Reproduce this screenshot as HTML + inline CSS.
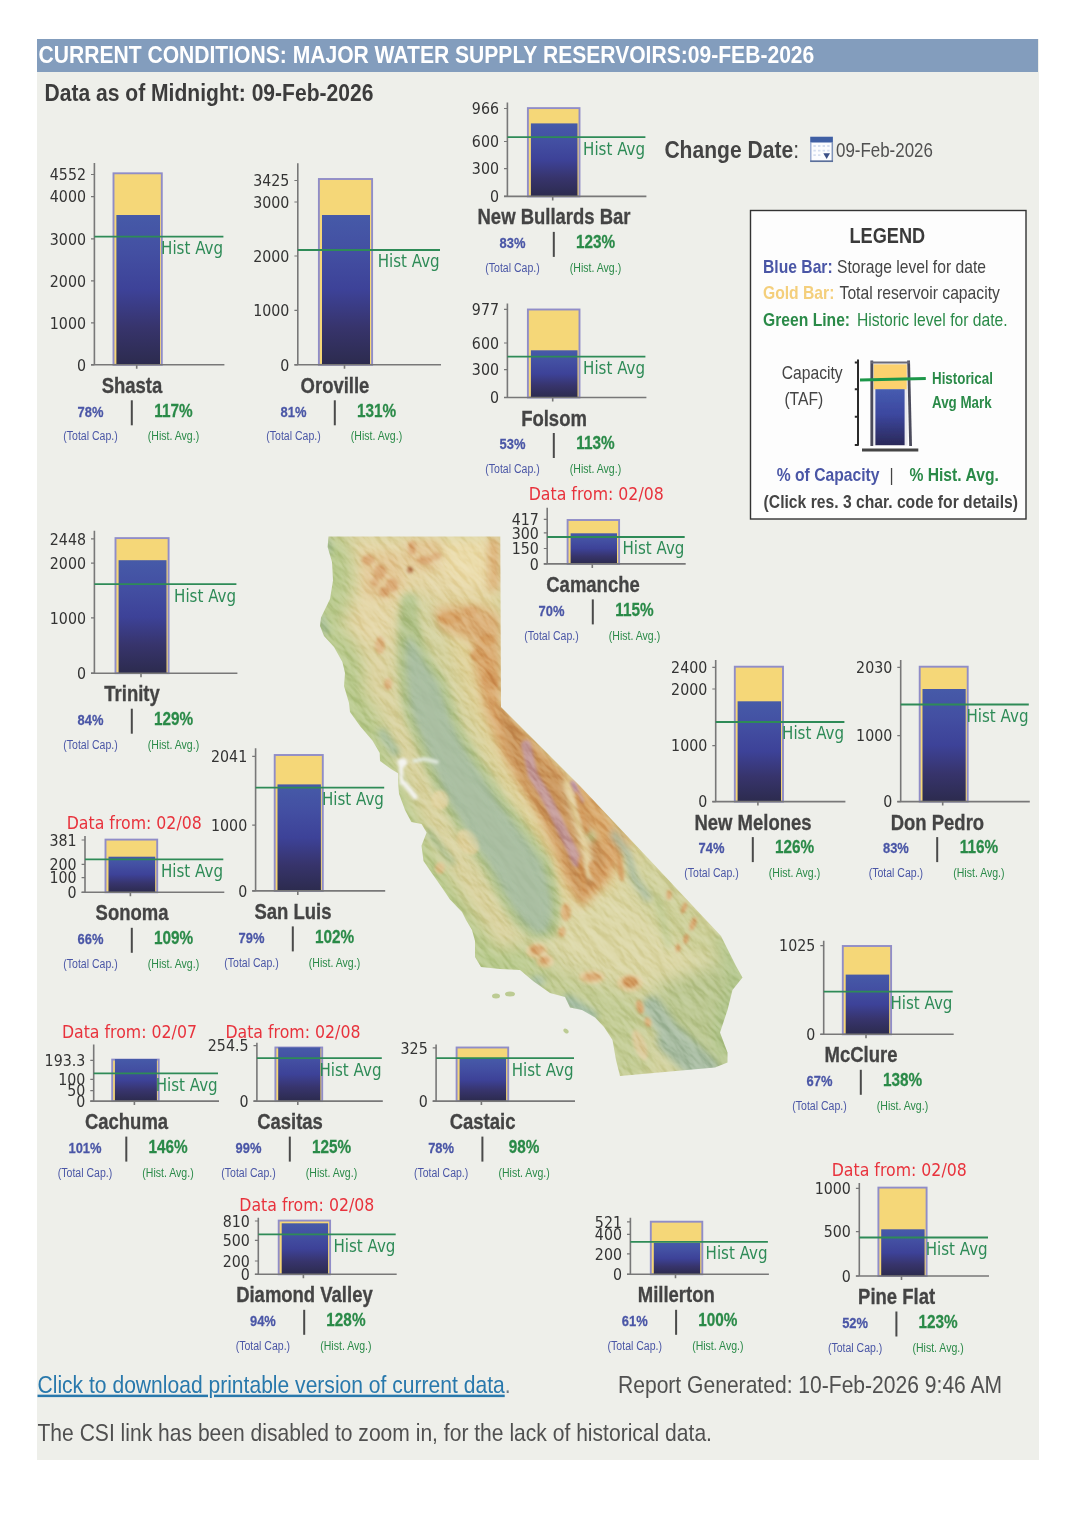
<!DOCTYPE html>
<html lang="en">
<head>
<meta charset="utf-8">
<title>Current Conditions: Major Water Supply Reservoirs</title>
<style>
html,body{margin:0;padding:0;background:#fff}
body{width:1080px;height:1527px;position:relative;overflow:hidden;font-family:"Liberation Sans",sans-serif}
#panel{position:absolute;left:37px;top:39px;width:1002px;height:1421px;background:#eeefea}
#hdr{position:absolute;left:37px;top:39px;width:1001px;height:32.5px;background:#839dbd}
svg{position:absolute;left:0;top:0;filter:blur(0.7px)}
text{font-family:"Liberation Sans",sans-serif;fill:#444}
.gold{fill:#f5d778;stroke:#908dc8;stroke-width:1.9}
.blue{fill:url(#bg)}
.axis{fill:none;stroke:#787878;stroke-width:1.6}
.tkm{fill:none;stroke:#777;stroke-width:1.2}
.hist{fill:none;stroke:#2e8b57;stroke-width:1.8}
.tk{font-family:"DejaVu Sans",sans-serif;font-size:15.9px;fill:#333;text-anchor:end}
.ha{font-family:"DejaVu Sans",sans-serif;font-size:17.3px;fill:#2e8b57;text-anchor:end}
.nm{font-weight:bold;font-size:21.2px;text-anchor:middle;fill:#444;stroke:#444;stroke-width:.3px}
.p1{font-weight:bold;font-size:15.1px;text-anchor:middle;fill:#4a56a6;stroke:#4a56a6;stroke-width:.25px}
.p2{font-weight:bold;font-size:17.9px;text-anchor:middle;fill:#2a8a48;stroke:#2a8a48;stroke-width:.25px}
.s1{font-size:12.3px;text-anchor:middle;fill:#4a56a6}
.s2{font-size:12.3px;text-anchor:middle;fill:#2a8a48}
.vb{fill:#4a4a4a}
.df{font-family:"DejaVu Sans",sans-serif;font-size:18.4px;fill:#e8323c}
</style>
</head>
<body>
<div id="panel"></div>
<div id="hdr"></div>
<svg width="1080" height="1527" viewBox="0 0 1080 1527">
<defs>
<linearGradient id="bg" x1="0" y1="0" x2="0" y2="1">
<stop offset="0" stop-color="#465aa8"/><stop offset="0.25" stop-color="#434fa2"/><stop offset="0.5" stop-color="#3d4298"/><stop offset="0.75" stop-color="#37346c"/><stop offset="1" stop-color="#2c2b4e"/>
</linearGradient>
<filter id="soft" x="-5%" y="-5%" width="110%" height="110%"><feGaussianBlur stdDeviation="0.45"/></filter>
<linearGradient id="lg" x1="0" y1="0" x2="0" y2="1"><stop offset="0" stop-color="#465cb0"/><stop offset="0.45" stop-color="#3c479f"/><stop offset="1" stop-color="#2a2858"/></linearGradient>
</defs>
<text transform="translate(38.5 63) scale(0.879 1)" style="font-weight:bold;font-size:24px;fill:#fff">CURRENT CONDITIONS: MAJOR WATER SUPPLY RESERVOIRS:09-FEB-2026</text>
<text transform="translate(44.5 100.5) scale(0.857 1)" style="font-weight:bold;font-size:24.6px;fill:#3c3c3c">Data as of Midnight: 09-Feb-2026</text>
<clipPath id="cac"><path d="M328.5 536.5L327.6 547L332 562L333 580.5L330 599L321 617.6L320 626L324 636L334 647L342.4 662L345 673L344 686L349 703L350 712L360.4 726.5L372.6 740.7L379.7 753L380 761L391 769L398 773.3L398 781.5L399 793.7L405 810L411.3 822L421.5 824L426.6 832.4L421.5 845.7L423.5 861L431.7 873L441.9 887.4L450 899.6L462 912L466 920L472 930L475 941L475 957L481 967L500 969L520 970L534 981.7L550 993L565 997L570 1007.5L582 1010L595 1017.5L604 1027L612.5 1040L616 1060L620 1076L715 1067.5L727.5 1062.5L727.5 1052.5L720 1032.5L727.5 1010L732.5 990L742.5 977.5L736 966L728 950L721 936L650 860.3L580 786L501 707L500.3 536.5Z"/></clipPath>
<filter id="b8" x="-30%" y="-30%" width="160%" height="160%"><feGaussianBlur stdDeviation="8"/></filter>
<filter id="b5" x="-30%" y="-30%" width="160%" height="160%"><feGaussianBlur stdDeviation="5"/></filter>
<filter id="b3" x="-30%" y="-30%" width="160%" height="160%"><feGaussianBlur stdDeviation="3"/></filter>
<filter id="b15" x="-30%" y="-30%" width="160%" height="160%"><feGaussianBlur stdDeviation="1.5"/></filter>
<filter id="relief" x="0" y="0" width="100%" height="100%" color-interpolation-filters="sRGB">
<feTurbulence type="fractalNoise" baseFrequency="0.035 0.1" numOctaves="4" seed="7" result="n"/>
<feDiffuseLighting in="n" surfaceScale="3.4" diffuseConstant="1" lighting-color="#ffffff"><feDistantLight azimuth="250" elevation="30"/></feDiffuseLighting>
</filter>
<g id="camap" clip-path="url(#cac)">
<rect x="310" y="530" width="440" height="555" fill="#d3d29f"/>
<g filter="url(#b8)">
<path d="M345 536L500 536L500 706L470 660L445 610L415 590L400 610L395 660L392 700L370 700L350 660L340 620Z" fill="#e4d6a6"/>
<path d="M440 536L490 536L490 585L465 590L440 570Z" fill="#ebdcab"/>
<path d="M328.5 536.5L327.6 547L332 562L333 580.5L330 599L321 617.6L320 626L324 636L334 647L342.4 662L345 673L344 686L349 703L350 712L360.4 726.5L372.6 740.7L379.7 753L380 761L391 769L398 773.3L398 781.5L399 793.7L405 810L411.3 822L421.5 824L426.6 832.4L421.5 845.7L423.5 861L431.7 873L441.9 887.4L450 899.6L462 912L466 920L472 930L475 941L475 957L481 967L500 969L520 970L534 981.7L550 993L565 997L570 1007.5L582 1010L595 1017.5L604 1027L612.5 1040L616 1060L620 1076" fill="none" stroke="#b9ca8e" stroke-width="42" stroke-linejoin="round"/>
<path d="M372 640L392 640L398 700L420 770L450 830L490 890L520 940L500 950L465 900L435 850L412 800L390 745L375 700Z" fill="#dcd3a0"/>
<path d="M440 600L500 600L500 706L640 850L610 900L575 925L560 905L550 870L530 830L505 790L485 750L465 700L450 650Z" fill="#e0d29a"/>
<path d="M555 915L600 890L650 885L705 925L705 975L650 985L595 970L555 950Z" fill="#dcd7a6"/>
<path d="M655 985L742 955L745 1080L690 1080L655 1025Z" fill="#bcc892"/>
<path d="M515 965L600 985L640 1000L650 1080L610 1080L590 1020L540 990Z" fill="#c4cd96"/>
<path d="M640 870L720 935L700 960L660 930L640 900Z" fill="#cdd09a"/>
<path d="M721 936L742 977L728 1010L722 1032L727 1060" stroke="#aec58a" stroke-width="16" fill="none"/>
</g>
<g filter="url(#b5)">
<path d="M468 612L500 622L501 707L630 842L607 882L582 907L566 882L554 850L538 815L518 782L500 748L486 712L476 670Z" fill="#d9a569"/>
<path d="M434 608L477 605L499 615L499 660L470 640L440 628Z" fill="#dcb078"/>
<path d="M362 553L399 553L405 585L390 600L365 595Z" fill="#e3c794"/>
<path d="M406 540L440 540L440 566L420 572L406 565Z" fill="#e3c794"/>
<path d="M494 538L494 590" stroke="#dba86c" stroke-width="9" fill="none"/>
</g>
<g filter="url(#b3)">
<path d="M498 706L525 736L555 770L590 810L612 838L597 880L580 897L565 862L547 822L526 786L507 752Z" fill="#cb965c"/>
<path d="M408 600L405 620L404 645L404 666L406 684L408 703L413 721L421.5 741L430 762L438 781L448 802L460 822L473 843L487 863L498 884L509 904L520 920L533 932L548 932L553 920L554 904L550 884L543.7 863L530 843L515 822L500 802L486.7 781L474 762L462 741L452.6 721L447 703L440 684L428.5 666L417.5 645L412 620L411 600Z" fill="#b3c48b" stroke="#b3c48b" stroke-width="13" stroke-linejoin="round"/>
<path d="M408 636L407.5 645L407.5 666L409.5 684L411.5 703L416.5 721L425.0 741L433.5 762L441.5 781L451.5 802L463.5 822L476.5 843L490.5 863L501.5 884L512.5 904L523.5 920L536.5 932L544.5 932L549.5 920L550.5 904L546.5 884L540.2 863L526.5 843L511.5 822L496.5 802L483.2 781L470.5 762L458.5 741L449.1 721L443.5 703L436.5 684L425.0 666L414.0 645Z" fill="#aabfa2"/>
<path d="M382 733L395 752" stroke="#a9c09f" stroke-width="9" fill="none" stroke-linecap="round"/>
<path d="M428 832L452 862" stroke="#aec49a" stroke-width="6" fill="none" stroke-linecap="round"/>
<path d="M322 618L326 632" stroke="#a9c09f" stroke-width="6" fill="none" stroke-linecap="round"/>
<path d="M328 540L329 552" stroke="#a9c09f" stroke-width="5" fill="none" stroke-linecap="round"/>
<path d="M567 782L576 815L586 850L590 875" stroke="#e8daa8" stroke-width="8" fill="none" stroke-linecap="round"/>
<path d="M613 833L628 854L634 878L648 898" stroke="#a4b9a0" stroke-width="6.5" fill="none" stroke-linecap="round" stroke-linejoin="round"/>
<ellipse cx="592" cy="836" rx="4" ry="6" fill="#bccb92"/>
<path d="M658 900L669 946" stroke="#c0cc94" stroke-width="6" fill="none" stroke-linecap="round"/>
<path d="M652 1006L664 1024L680 1046L705 1072" stroke="#a9bda3" stroke-width="20" fill="none" stroke-linecap="round"/><path d="M672 1040L704 1070" stroke="#a9bda3" stroke-width="30" fill="none" stroke-linecap="round"/>
<path d="M568 1000L592 1016" stroke="#a5bda6" stroke-width="11" fill="none" stroke-linecap="round"/>
<ellipse cx="537" cy="981" rx="8" ry="5" fill="#a8bfa4"/>
<path d="M572 775L600 805L612 830L606 860L596 838L584 808Z" fill="#d9a86a"/>
</g>
<g filter="url(#b15)">
<path d="M526 745L533 775L545 795L555 815L563 832L571 848L577 862" stroke="#c29bac" stroke-width="10" opacity="0.75" fill="none" stroke-linecap="round" stroke-linejoin="round"/>
<path d="M573 783L581 801" stroke="#c29bac" stroke-width="5" fill="none" stroke-linecap="round"/>
<ellipse cx="410" cy="570" rx="3" ry="3" fill="#b87a50"/>
<ellipse cx="368" cy="560" rx="6" ry="5" fill="#d9a872"/>
<ellipse cx="380" cy="572" rx="6" ry="7" fill="#d9a872"/>
<ellipse cx="392" cy="585" rx="6" ry="7" fill="#d9a872"/>
<ellipse cx="384" cy="592" rx="5" ry="5" fill="#d9a872"/>
<ellipse cx="375" cy="582" rx="4" ry="5" fill="#dcb07c"/>
<ellipse cx="412" cy="548" rx="4" ry="7" fill="#d9a872"/>
<ellipse cx="425" cy="560" rx="8" ry="4" fill="#d9a872"/>
<ellipse cx="436" cy="556" rx="5" ry="4" fill="#dcb07c"/>
<ellipse cx="380" cy="645" rx="5" ry="9" fill="#ddb682"/>
<ellipse cx="388" cy="684" rx="4" ry="6" fill="#ddb682"/>
<ellipse cx="450" cy="618" rx="12" ry="6" fill="#d6a062"/>
<ellipse cx="470" cy="612" rx="8" ry="5" fill="#d9a86e"/>
<ellipse cx="487" cy="640" rx="8" ry="6" fill="#d6a062"/>
<ellipse cx="478" cy="655" rx="7" ry="6" fill="#d6a062"/>
<ellipse cx="490" cy="680" rx="8" ry="10" fill="#d39a5c"/>
<ellipse cx="537" cy="951" rx="11" ry="8" fill="#e0cc9a"/>
<ellipse cx="545" cy="961" rx="9" ry="7" fill="#e0cc9a"/>
<ellipse cx="592" cy="977" rx="13" ry="7" fill="#e0cc9a"/>
<ellipse cx="630" cy="983" rx="13" ry="9" fill="#e0cc9a"/>
<ellipse cx="537" cy="950" rx="7" ry="5" fill="#d9a870"/>
<ellipse cx="545" cy="960" rx="5" ry="4" fill="#d9a870"/>
<ellipse cx="592" cy="977" rx="9" ry="4" fill="#d9a870"/>
<ellipse cx="630" cy="982" rx="8" ry="6" fill="#d39c60"/>
<ellipse cx="640" cy="1007" rx="3.5" ry="7" fill="#d6a268" transform="rotate(-15 640 1007)"/>
<ellipse cx="648" cy="1022" rx="3" ry="5" fill="#dcb07a" transform="rotate(-20 648 1022)"/>
<ellipse cx="566" cy="912" rx="5" ry="9" fill="#dcb27a"/>
<ellipse cx="562" cy="932" rx="3.5" ry="5" fill="#dcb27a"/>
<ellipse cx="582" cy="812" rx="3" ry="22" fill="#d09758" transform="rotate(-15 582 812)"/>
<ellipse cx="596" cy="872" rx="6" ry="12" fill="#d39c5e" transform="rotate(-25 596 872)"/>
<ellipse cx="620" cy="868" rx="3" ry="14" fill="#d39c5e" transform="rotate(-10 620 868)"/>
<ellipse cx="582" cy="876" rx="3" ry="20" fill="#d09758" transform="rotate(-8 582 876)"/>
<ellipse cx="669" cy="895" rx="2.5" ry="5" fill="#d8a870"/>
<ellipse cx="684" cy="908" rx="2.5" ry="6" fill="#d8a870" transform="rotate(20 684 908)"/>
<ellipse cx="693" cy="924" rx="3" ry="7" fill="#d8a870" transform="rotate(20 693 924)"/>
<ellipse cx="686" cy="939" rx="2.5" ry="5" fill="#d8a870" transform="rotate(10 686 939)"/>
<ellipse cx="678" cy="948" rx="2.5" ry="4" fill="#d8a870"/>
<ellipse cx="640" cy="1045" rx="6" ry="16" fill="#dccb9b" transform="rotate(-20 640 1045)"/>
<ellipse cx="440" cy="868" rx="5" ry="6" fill="#dcc28e"/>
<ellipse cx="440" cy="800" rx="9" ry="10" fill="#e0d3a0"/>
<ellipse cx="468" cy="842" rx="10" ry="14" fill="#e0d3a0" transform="rotate(-35 468 842)"/>
</g>
<rect x="180" y="455" width="700" height="700" transform="rotate(50 530 805)" filter="url(#relief)" style="mix-blend-mode:soft-light" opacity="0.36"/>
<path d="M408 636L407.5 645L407.5 666L409.5 684L411.5 703L416.5 721L425.0 741L433.5 762L441.5 781L451.5 802L463.5 822L476.5 843L490.5 863L501.5 884L512.5 904L523.5 920L536.5 932L544.5 932L549.5 920L550.5 904L546.5 884L540.2 863L526.5 843L511.5 822L496.5 802L483.2 781L470.5 762L458.5 741L449.1 721L443.5 703L436.5 684L425.0 666L414.0 645Z" fill="#aabfa2" filter="url(#b5)" opacity="0.8"/>
<g filter="url(#b15)"><ellipse cx="402.5" cy="762.5" rx="5" ry="4.5" fill="#f3f3f0"/><path d="M401 766L401.5 783" stroke="#f3f3f0" stroke-width="4" fill="none" stroke-linecap="round"/><path d="M404 783L410 790L415 797" stroke="#f3f3f0" stroke-width="5" fill="none" stroke-linecap="round"/><path d="M414 761L424 759L437 762" stroke="#e4ebe2" stroke-width="3.5" fill="none" stroke-linecap="round"/></g>
</g>
<g fill="#bccb93"><ellipse cx="496" cy="996" rx="4" ry="2.5"/><ellipse cx="510" cy="994" rx="5" ry="2.5"/><ellipse cx="566" cy="1031" rx="3" ry="2" transform="rotate(35 566 1031)"/></g>
<g class="chart">
<rect class="gold" x="113.5" y="173.3" width="48.3" height="191.5"/>
<rect class="blue" x="116.4" y="215" width="43.6" height="149.8"/>
<path class="axis" d="M94.4 163V364.8M91 364.8H224.4M136.7 364.8v4"/>
<path class="tkm" d="M91 174.5h3.4M91 196.7h3.4M91 238.8h3.4M91 280.8h3.4M91 322.8h3.4M91 364.8h3.4"/>
<text class="tk" transform="translate(86 180.2) scale(0.895 1)">4552</text>
<text class="tk" transform="translate(86 202.4) scale(0.895 1)">4000</text>
<text class="tk" transform="translate(86 244.5) scale(0.895 1)">3000</text>
<text class="tk" transform="translate(86 286.5) scale(0.895 1)">2000</text>
<text class="tk" transform="translate(86 328.5) scale(0.895 1)">1000</text>
<text class="tk" transform="translate(86 370.5) scale(0.895 1)">0</text>
<path class="hist" d="M94.4 236.7H223.4"/>
<text class="ha" transform="translate(223.1 254.1) scale(0.872 1)">Hist Avg</text>
</g>
<text class="nm" transform="translate(132 392.8) scale(0.872 1)">Shasta</text>
<text class="p1" transform="translate(90.5 416.5) scale(0.857 1)">78%</text>
<text class="p2" transform="translate(173.5 416.5) scale(0.857 1)">117%</text>
<rect class="vb" x="130.8" y="400.3" width="2" height="25"/>
<text class="s1" transform="translate(90.5 440.4) scale(0.857 1)">(Total Cap.)</text>
<text class="s2" transform="translate(173.5 440.4) scale(0.857 1)">(Hist. Avg.)</text>
<g class="chart">
<rect class="gold" x="318.9" y="179" width="53.2" height="185.8"/>
<rect class="blue" x="322" y="215" width="48" height="149.8"/>
<path class="axis" d="M297.8 163.2V364.8M294.4 364.8H441M344.5 364.8v4"/>
<path class="tkm" d="M294.4 180.5h3.4M294.4 202h3.4M294.4 256h3.4M294.4 310.4h3.4M294.4 364.8h3.4"/>
<text class="tk" transform="translate(289.4 186.2) scale(0.895 1)">3425</text>
<text class="tk" transform="translate(289.4 207.7) scale(0.895 1)">3000</text>
<text class="tk" transform="translate(289.4 261.7) scale(0.895 1)">2000</text>
<text class="tk" transform="translate(289.4 316.1) scale(0.895 1)">1000</text>
<text class="tk" transform="translate(289.4 370.5) scale(0.895 1)">0</text>
<path class="hist" d="M297.8 250H440"/>
<text class="ha" transform="translate(439.7 267.4) scale(0.872 1)">Hist Avg</text>
</g>
<text class="nm" transform="translate(335 392.8) scale(0.872 1)">Oroville</text>
<text class="p1" transform="translate(293.5 416.5) scale(0.857 1)">81%</text>
<text class="p2" transform="translate(376.5 416.5) scale(0.857 1)">131%</text>
<rect class="vb" x="333.8" y="400.3" width="2" height="25"/>
<text class="s1" transform="translate(293.5 440.4) scale(0.857 1)">(Total Cap.)</text>
<text class="s2" transform="translate(376.5 440.4) scale(0.857 1)">(Hist. Avg.)</text>
<g class="chart">
<rect class="gold" x="527.9" y="108.1" width="51.6" height="88.3"/>
<rect class="blue" x="530.9" y="123.4" width="46.6" height="73"/>
<path class="axis" d="M507.4 102.6V196.4M504 196.4H646.4M552.7 196.4v4"/>
<path class="tkm" d="M504 108.5h3.4M504 141.5h3.4M504 168.7h3.4M504 196.4h3.4"/>
<text class="tk" transform="translate(499 114.2) scale(0.895 1)">966</text>
<text class="tk" transform="translate(499 147.2) scale(0.895 1)">600</text>
<text class="tk" transform="translate(499 174.4) scale(0.895 1)">300</text>
<text class="tk" transform="translate(499 202.1) scale(0.895 1)">0</text>
<path class="hist" d="M507.4 137.2H645.4"/>
<text class="ha" transform="translate(645.1 154.6) scale(0.872 1)">Hist Avg</text>
</g>
<text class="nm" transform="translate(554 224.4) scale(0.872 1)">New Bullards Bar</text>
<text class="p1" transform="translate(512.5 248.1) scale(0.857 1)">83%</text>
<text class="p2" transform="translate(595.5 248.1) scale(0.857 1)">123%</text>
<rect class="vb" x="552.8" y="231.9" width="2" height="25"/>
<text class="s1" transform="translate(512.5 272) scale(0.857 1)">(Total Cap.)</text>
<text class="s2" transform="translate(595.5 272) scale(0.857 1)">(Hist. Avg.)</text>
<g class="chart">
<rect class="gold" x="527.9" y="309.5" width="51.6" height="88"/>
<rect class="blue" x="530.9" y="350.3" width="46.6" height="47.2"/>
<path class="axis" d="M507.4 303.6V397.5M504 397.5H646.4M552.7 397.5v4"/>
<path class="tkm" d="M504 309.4h3.4M504 343h3.4M504 369.7h3.4M504 397.5h3.4"/>
<text class="tk" transform="translate(499 315.1) scale(0.895 1)">977</text>
<text class="tk" transform="translate(499 348.7) scale(0.895 1)">600</text>
<text class="tk" transform="translate(499 375.4) scale(0.895 1)">300</text>
<text class="tk" transform="translate(499 403.2) scale(0.895 1)">0</text>
<path class="hist" d="M507.4 356.7H645.4"/>
<text class="ha" transform="translate(645.1 374.1) scale(0.872 1)">Hist Avg</text>
</g>
<text class="nm" transform="translate(554 425.5) scale(0.872 1)">Folsom</text>
<text class="p1" transform="translate(512.5 449.2) scale(0.857 1)">53%</text>
<text class="p2" transform="translate(595.5 449.2) scale(0.857 1)">113%</text>
<rect class="vb" x="552.8" y="433" width="2" height="25"/>
<text class="s1" transform="translate(512.5 473.1) scale(0.857 1)">(Total Cap.)</text>
<text class="s2" transform="translate(595.5 473.1) scale(0.857 1)">(Hist. Avg.)</text>
<g class="chart">
<rect class="gold" x="567.6" y="520" width="51.5" height="43.9"/>
<rect class="blue" x="570.6" y="533.3" width="46.4" height="30.6"/>
<path class="axis" d="M547.2 507.8V563.9M543.8 563.9H685.7M592.3 563.9v4"/>
<path class="tkm" d="M543.8 519.4h3.4M543.8 532.8h3.4M543.8 548.5h3.4M543.8 563.9h3.4"/>
<text class="tk" transform="translate(538.8 525.1) scale(0.895 1)">417</text>
<text class="tk" transform="translate(538.8 538.5) scale(0.895 1)">300</text>
<text class="tk" transform="translate(538.8 554.2) scale(0.895 1)">150</text>
<text class="tk" transform="translate(538.8 569.6) scale(0.895 1)">0</text>
<path class="hist" d="M547.2 537H684.7"/>
<text class="ha" transform="translate(684.4 554.4) scale(0.872 1)">Hist Avg</text>
</g>
<text class="nm" transform="translate(593 591.9) scale(0.872 1)">Camanche</text>
<text class="p1" transform="translate(551.5 615.6) scale(0.857 1)">70%</text>
<text class="p2" transform="translate(634.5 615.6) scale(0.857 1)">115%</text>
<rect class="vb" x="591.8" y="599.4" width="2" height="25"/>
<text class="s1" transform="translate(551.5 639.5) scale(0.857 1)">(Total Cap.)</text>
<text class="s2" transform="translate(634.5 639.5) scale(0.857 1)">(Hist. Avg.)</text>
<text class="df" transform="translate(528.7 500.4) scale(0.857 1)">Data from: 02/08</text>
<g class="chart">
<rect class="gold" x="115.5" y="538.1" width="53.1" height="135.1"/>
<rect class="blue" x="118.6" y="560.2" width="47.9" height="113"/>
<path class="axis" d="M94.4 530.7V673.2M91 673.2H237.4M141 673.2v4"/>
<path class="tkm" d="M91 538.9h3.4M91 563.2h3.4M91 617.8h3.4M91 673.2h3.4"/>
<text class="tk" transform="translate(86 544.6) scale(0.895 1)">2448</text>
<text class="tk" transform="translate(86 568.9) scale(0.895 1)">2000</text>
<text class="tk" transform="translate(86 623.5) scale(0.895 1)">1000</text>
<text class="tk" transform="translate(86 678.9) scale(0.895 1)">0</text>
<path class="hist" d="M94.4 584.2H236.4"/>
<text class="ha" transform="translate(236.1 601.6) scale(0.872 1)">Hist Avg</text>
</g>
<text class="nm" transform="translate(132 701.2) scale(0.872 1)">Trinity</text>
<text class="p1" transform="translate(90.5 724.9) scale(0.857 1)">84%</text>
<text class="p2" transform="translate(173.5 724.9) scale(0.857 1)">129%</text>
<rect class="vb" x="130.8" y="708.7" width="2" height="25"/>
<text class="s1" transform="translate(90.5 748.8) scale(0.857 1)">(Total Cap.)</text>
<text class="s2" transform="translate(173.5 748.8) scale(0.857 1)">(Hist. Avg.)</text>
<g class="chart">
<rect class="gold" x="105.5" y="839.6" width="51.7" height="52.7"/>
<rect class="blue" x="108.5" y="856.7" width="46.7" height="35.6"/>
<path class="axis" d="M85 836V892.3M81.6 892.3H224.3M130.4 892.3v4"/>
<path class="tkm" d="M81.6 840h3.4M81.6 864.3h3.4M81.6 877.7h3.4M81.6 892.3h3.4"/>
<text class="tk" transform="translate(76.6 845.7) scale(0.895 1)">381</text>
<text class="tk" transform="translate(76.6 870) scale(0.895 1)">200</text>
<text class="tk" transform="translate(76.6 883.4) scale(0.895 1)">100</text>
<text class="tk" transform="translate(76.6 898) scale(0.895 1)">0</text>
<path class="hist" d="M85 859.3H223.3"/>
<text class="ha" transform="translate(223 876.7) scale(0.872 1)">Hist Avg</text>
</g>
<text class="nm" transform="translate(132 920.3) scale(0.872 1)">Sonoma</text>
<text class="p1" transform="translate(90.5 944) scale(0.857 1)">66%</text>
<text class="p2" transform="translate(173.5 944) scale(0.857 1)">109%</text>
<rect class="vb" x="130.8" y="927.8" width="2" height="25"/>
<text class="s1" transform="translate(90.5 967.9) scale(0.857 1)">(Total Cap.)</text>
<text class="s2" transform="translate(173.5 967.9) scale(0.857 1)">(Hist. Avg.)</text>
<text class="df" transform="translate(66.7 829.3) scale(0.857 1)">Data from: 02/08</text>
<g class="chart">
<rect class="gold" x="274.7" y="755" width="48.1" height="135.9"/>
<rect class="blue" x="277.5" y="784.4" width="43.4" height="106.5"/>
<path class="axis" d="M255.6 748.3V890.9M252.2 890.9H385.2M297.8 890.9v4"/>
<path class="tkm" d="M252.2 756.3h3.4M252.2 825.2h3.4M252.2 890.9h3.4"/>
<text class="tk" transform="translate(247.2 762) scale(0.895 1)">2041</text>
<text class="tk" transform="translate(247.2 830.9) scale(0.895 1)">1000</text>
<text class="tk" transform="translate(247.2 896.6) scale(0.895 1)">0</text>
<path class="hist" d="M255.6 787.6H384.2"/>
<text class="ha" transform="translate(383.9 805) scale(0.872 1)">Hist Avg</text>
</g>
<text class="nm" transform="translate(293 918.9) scale(0.872 1)">San Luis</text>
<text class="p1" transform="translate(251.5 942.6) scale(0.857 1)">79%</text>
<text class="p2" transform="translate(334.5 942.6) scale(0.857 1)">102%</text>
<rect class="vb" x="291.8" y="926.4" width="2" height="25"/>
<text class="s1" transform="translate(251.5 966.5) scale(0.857 1)">(Total Cap.)</text>
<text class="s2" transform="translate(334.5 966.5) scale(0.857 1)">(Hist. Avg.)</text>
<g class="chart">
<rect class="gold" x="734.8" y="666.7" width="48.2" height="134.9"/>
<rect class="blue" x="737.6" y="701.3" width="43.4" height="100.3"/>
<path class="axis" d="M715.7 660V801.6M712.3 801.6H845.4M757.9 801.6v4"/>
<path class="tkm" d="M712.3 667.3h3.4M712.3 689h3.4M712.3 745.6h3.4M712.3 801.6h3.4"/>
<text class="tk" transform="translate(707.3 673) scale(0.895 1)">2400</text>
<text class="tk" transform="translate(707.3 694.7) scale(0.895 1)">2000</text>
<text class="tk" transform="translate(707.3 751.3) scale(0.895 1)">1000</text>
<text class="tk" transform="translate(707.3 807.3) scale(0.895 1)">0</text>
<path class="hist" d="M715.7 722H844.4"/>
<text class="ha" transform="translate(844.1 739.4) scale(0.872 1)">Hist Avg</text>
</g>
<text class="nm" transform="translate(753 829.6) scale(0.872 1)">New Melones</text>
<text class="p1" transform="translate(711.5 853.3) scale(0.857 1)">74%</text>
<text class="p2" transform="translate(794.5 853.3) scale(0.857 1)">126%</text>
<rect class="vb" x="751.8" y="837.1" width="2" height="25"/>
<text class="s1" transform="translate(711.5 877.2) scale(0.857 1)">(Total Cap.)</text>
<text class="s2" transform="translate(794.5 877.2) scale(0.857 1)">(Hist. Avg.)</text>
<g class="chart">
<rect class="gold" x="919.7" y="666.7" width="48" height="134.9"/>
<rect class="blue" x="922.5" y="689" width="43.2" height="112.6"/>
<path class="axis" d="M900.7 660V801.6M897.3 801.6H1029.8M942.7 801.6v4"/>
<path class="tkm" d="M897.3 667.3h3.4M897.3 735.6h3.4M897.3 801.6h3.4"/>
<text class="tk" transform="translate(892.3 673) scale(0.895 1)">2030</text>
<text class="tk" transform="translate(892.3 741.3) scale(0.895 1)">1000</text>
<text class="tk" transform="translate(892.3 807.3) scale(0.895 1)">0</text>
<path class="hist" d="M900.7 704.5H1028.8"/>
<text class="ha" transform="translate(1028.5 721.9) scale(0.872 1)">Hist Avg</text>
</g>
<text class="nm" transform="translate(937.4 829.6) scale(0.872 1)">Don Pedro</text>
<text class="p1" transform="translate(895.9 853.3) scale(0.857 1)">83%</text>
<text class="p2" transform="translate(978.9 853.3) scale(0.857 1)">116%</text>
<rect class="vb" x="936.2" y="837.1" width="2" height="25"/>
<text class="s1" transform="translate(895.9 877.2) scale(0.857 1)">(Total Cap.)</text>
<text class="s2" transform="translate(978.9 877.2) scale(0.857 1)">(Hist. Avg.)</text>
<g class="chart">
<rect class="gold" x="842.8" y="946" width="48.3" height="88.3"/>
<rect class="blue" x="845.7" y="974.6" width="43.5" height="59.7"/>
<path class="axis" d="M823.7 940.7V1034.3M820.3 1034.3H953.7M866 1034.3v4"/>
<path class="tkm" d="M820.3 945.7h3.4M820.3 1034.3h3.4"/>
<text class="tk" transform="translate(815.3 951.4) scale(0.895 1)">1025</text>
<text class="tk" transform="translate(815.3 1040) scale(0.895 1)">0</text>
<path class="hist" d="M823.7 991.7H952.7"/>
<text class="ha" transform="translate(952.4 1009.1) scale(0.872 1)">Hist Avg</text>
</g>
<text class="nm" transform="translate(861 1062.3) scale(0.872 1)">McClure</text>
<text class="p1" transform="translate(819.5 1086) scale(0.857 1)">67%</text>
<text class="p2" transform="translate(902.5 1086) scale(0.857 1)">138%</text>
<rect class="vb" x="859.8" y="1069.8" width="2" height="25"/>
<text class="s1" transform="translate(819.5 1109.9) scale(0.857 1)">(Total Cap.)</text>
<text class="s2" transform="translate(902.5 1109.9) scale(0.857 1)">(Hist. Avg.)</text>
<g class="chart">
<rect class="gold" x="112.2" y="1059.6" width="46.5" height="41.5"/>
<rect class="blue" x="114.9" y="1059" width="42" height="42.1"/>
<path class="axis" d="M93.7 1044.6V1101.1M90.3 1101.1H219M134.4 1101.1v4"/>
<path class="tkm" d="M90.3 1060.4h3.4M90.3 1079.4h3.4M90.3 1090.6h3.4M90.3 1101.1h3.4"/>
<text class="tk" transform="translate(85.3 1066.1) scale(0.895 1)">193.3</text>
<text class="tk" transform="translate(85.3 1085.1) scale(0.895 1)">100</text>
<text class="tk" transform="translate(85.3 1096.3) scale(0.895 1)">50</text>
<text class="tk" transform="translate(85.3 1106.8) scale(0.895 1)">0</text>
<path class="hist" d="M93.7 1073.3H218"/>
<text class="ha" transform="translate(217.7 1090.7) scale(0.872 1)">Hist Avg</text>
</g>
<text class="nm" transform="translate(126.5 1129.1) scale(0.872 1)">Cachuma</text>
<text class="p1" transform="translate(85 1152.8) scale(0.857 1)">101%</text>
<text class="p2" transform="translate(168 1152.8) scale(0.857 1)">146%</text>
<rect class="vb" x="125.3" y="1136.6" width="2" height="25"/>
<text class="s1" transform="translate(85 1176.7) scale(0.857 1)">(Total Cap.)</text>
<text class="s2" transform="translate(168 1176.7) scale(0.857 1)">(Hist. Avg.)</text>
<text class="df" transform="translate(61.9 1038.1) scale(0.857 1)">Data from: 02/07</text>
<g class="chart">
<rect class="gold" x="275.4" y="1047.5" width="46.8" height="53.6"/>
<rect class="blue" x="278.2" y="1047.4" width="42.2" height="53.7"/>
<path class="axis" d="M256.9 1042.8V1101.1M253.5 1101.1H382.8M297.8 1101.1v4"/>
<path class="tkm" d="M253.5 1045.6h3.4M253.5 1101.1h3.4"/>
<text class="tk" transform="translate(248.5 1051.3) scale(0.895 1)">254.5</text>
<text class="tk" transform="translate(248.5 1106.8) scale(0.895 1)">0</text>
<path class="hist" d="M256.9 1058.1H381.8"/>
<text class="ha" transform="translate(381.5 1075.5) scale(0.872 1)">Hist Avg</text>
</g>
<text class="nm" transform="translate(290 1129.1) scale(0.872 1)">Casitas</text>
<text class="p1" transform="translate(248.5 1152.8) scale(0.857 1)">99%</text>
<text class="p2" transform="translate(331.5 1152.8) scale(0.857 1)">125%</text>
<rect class="vb" x="288.8" y="1136.6" width="2" height="25"/>
<text class="s1" transform="translate(248.5 1176.7) scale(0.857 1)">(Total Cap.)</text>
<text class="s2" transform="translate(331.5 1176.7) scale(0.857 1)">(Hist. Avg.)</text>
<text class="df" transform="translate(225.4 1038.1) scale(0.857 1)">Data from: 02/08</text>
<g class="chart">
<rect class="gold" x="456.6" y="1047.5" width="51.6" height="53.6"/>
<rect class="blue" x="459.6" y="1058.5" width="46.5" height="42.6"/>
<path class="axis" d="M436.1 1044.6V1101.1M432.7 1101.1H575M481.4 1101.1v4"/>
<path class="tkm" d="M432.7 1047.8h3.4M432.7 1101.1h3.4"/>
<text class="tk" transform="translate(427.7 1053.5) scale(0.895 1)">325</text>
<text class="tk" transform="translate(427.7 1106.8) scale(0.895 1)">0</text>
<path class="hist" d="M436.1 1058.1H574"/>
<text class="ha" transform="translate(573.7 1075.5) scale(0.872 1)">Hist Avg</text>
</g>
<text class="nm" transform="translate(482.6 1129.1) scale(0.872 1)">Castaic</text>
<text class="p1" transform="translate(441.1 1152.8) scale(0.857 1)">78%</text>
<text class="p2" transform="translate(524.1 1152.8) scale(0.857 1)">98%</text>
<rect class="vb" x="481.4" y="1136.6" width="2" height="25"/>
<text class="s1" transform="translate(441.1 1176.7) scale(0.857 1)">(Total Cap.)</text>
<text class="s2" transform="translate(524.1 1176.7) scale(0.857 1)">(Hist. Avg.)</text>
<g class="chart">
<rect class="gold" x="278.7" y="1220.6" width="51.4" height="53.7"/>
<rect class="blue" x="281.7" y="1223.3" width="46.4" height="51"/>
<path class="axis" d="M258.3 1217.8V1274.3M254.9 1274.3H396.7M303.4 1274.3v4"/>
<path class="tkm" d="M254.9 1221h3.4M254.9 1240.4h3.4M254.9 1261h3.4M254.9 1274.3h3.4"/>
<text class="tk" transform="translate(249.9 1226.7) scale(0.895 1)">810</text>
<text class="tk" transform="translate(249.9 1246.1) scale(0.895 1)">500</text>
<text class="tk" transform="translate(249.9 1266.7) scale(0.895 1)">200</text>
<text class="tk" transform="translate(249.9 1280) scale(0.895 1)">0</text>
<path class="hist" d="M258.3 1234.4H395.7"/>
<text class="ha" transform="translate(395.4 1251.8) scale(0.872 1)">Hist Avg</text>
</g>
<text class="nm" transform="translate(304.4 1302.3) scale(0.872 1)">Diamond Valley</text>
<text class="p1" transform="translate(262.9 1326) scale(0.857 1)">94%</text>
<text class="p2" transform="translate(345.9 1326) scale(0.857 1)">128%</text>
<rect class="vb" x="303.2" y="1309.8" width="2" height="25"/>
<text class="s1" transform="translate(262.9 1349.9) scale(0.857 1)">(Total Cap.)</text>
<text class="s2" transform="translate(345.9 1349.9) scale(0.857 1)">(Hist. Avg.)</text>
<text class="df" transform="translate(239.3 1211) scale(0.857 1)">Data from: 02/08</text>
<g class="chart">
<rect class="gold" x="650.8" y="1221.7" width="51.5" height="52.6"/>
<rect class="blue" x="653.8" y="1242.8" width="46.4" height="31.5"/>
<path class="axis" d="M630.4 1217.8V1274.3M627 1274.3H768.9M675.5 1274.3v4"/>
<path class="tkm" d="M627 1221.9h3.4M627 1234.4h3.4M627 1253.9h3.4M627 1274.3h3.4"/>
<text class="tk" transform="translate(622 1227.6) scale(0.895 1)">521</text>
<text class="tk" transform="translate(622 1240.1) scale(0.895 1)">400</text>
<text class="tk" transform="translate(622 1259.6) scale(0.895 1)">200</text>
<text class="tk" transform="translate(622 1280) scale(0.895 1)">0</text>
<path class="hist" d="M630.4 1241.9H767.9"/>
<text class="ha" transform="translate(767.6 1259.3) scale(0.872 1)">Hist Avg</text>
</g>
<text class="nm" transform="translate(676.3 1302.3) scale(0.872 1)">Millerton</text>
<text class="p1" transform="translate(634.8 1326) scale(0.857 1)">61%</text>
<text class="p2" transform="translate(717.8 1326) scale(0.857 1)">100%</text>
<rect class="vb" x="675.1" y="1309.8" width="2" height="25"/>
<text class="s1" transform="translate(634.8 1349.9) scale(0.857 1)">(Total Cap.)</text>
<text class="s2" transform="translate(717.8 1349.9) scale(0.857 1)">(Hist. Avg.)</text>
<g class="chart">
<rect class="gold" x="878.4" y="1187.6" width="48.2" height="88.4"/>
<rect class="blue" x="881.2" y="1229.3" width="43.4" height="46.7"/>
<path class="axis" d="M859.3 1183V1276M855.9 1276H989M901.5 1276v4"/>
<path class="tkm" d="M855.9 1188.3h3.4M855.9 1231.7h3.4M855.9 1276h3.4"/>
<text class="tk" transform="translate(850.9 1194) scale(0.895 1)">1000</text>
<text class="tk" transform="translate(850.9 1237.4) scale(0.895 1)">500</text>
<text class="tk" transform="translate(850.9 1281.7) scale(0.895 1)">0</text>
<path class="hist" d="M859.3 1237.5H988"/>
<text class="ha" transform="translate(987.7 1254.9) scale(0.872 1)">Hist Avg</text>
</g>
<text class="nm" transform="translate(896.6 1304) scale(0.872 1)">Pine Flat</text>
<text class="p1" transform="translate(855.1 1327.7) scale(0.857 1)">52%</text>
<text class="p2" transform="translate(938.1 1327.7) scale(0.857 1)">123%</text>
<rect class="vb" x="895.4" y="1311.5" width="2" height="25"/>
<text class="s1" transform="translate(855.1 1351.6) scale(0.857 1)">(Total Cap.)</text>
<text class="s2" transform="translate(938.1 1351.6) scale(0.857 1)">(Hist. Avg.)</text>
<text class="df" transform="translate(831.7 1175.9) scale(0.857 1)">Data from: 02/08</text>
<text transform="translate(664.4 157.5) scale(0.857 1)" style="font-size:24.6px;fill:#444"><tspan style="font-weight:bold">Change Date</tspan>:</text>
<g id="cal">
<rect x="810.2" y="136.7" width="22.7" height="25.2" fill="#fbfcfe"/>
<rect x="810.2" y="136.7" width="22.7" height="5.8" fill="#3f5fa3"/>
<path d="M810.8 142V162" stroke="#8fa3cc" stroke-width="1.3" fill="none"/>
<path d="M832.3 142V162" stroke="#7f93b8" stroke-width="1.5" fill="none"/>
<path d="M810.2 161.2H833" stroke="#5a6f9a" stroke-width="1.7" fill="none"/>
<path d="M813.4 146h18M813.4 150.6h18M813.4 155.2h9" stroke="#d5deef" stroke-width="1.8" stroke-dasharray="2.4 2.2" fill="none"/>
<path d="M823.3 153.3h6.7l-3.35 5.6z" fill="#3a4f86"/>
</g>
<text transform="translate(836 157.4) scale(0.806 1)" style="font-size:21px;fill:#505050">09-Feb-2026</text>
<g id="legend">
<rect x="750.5" y="210.5" width="275.5" height="308.5" fill="#fdfdfd" stroke="#333" stroke-width="1.4"/>
<text transform="translate(887.3 243) scale(0.857 1)" style="font-weight:bold;font-size:21.2px;text-anchor:middle;fill:#3a3a3a">LEGEND</text>
<text transform="translate(763 272.8) scale(0.857 1)" style="font-size:18.3px;fill:#444"><tspan style="font-weight:bold;fill:#4a56a6">Blue Bar:</tspan> Storage level for date</text>
<text transform="translate(763 299.2) scale(0.857 1)" style="font-size:18.3px;fill:#444"><tspan style="font-weight:bold;fill:#f4cf7c">Gold Bar:</tspan><tspan dx="6">Total reservoir capacity</tspan></text>
<text transform="translate(763 325.8) scale(0.857 1)" style="font-size:18.3px;fill:#2a8a48"><tspan style="font-weight:bold">Green Line:</tspan><tspan dx="8">Historic level for date.</tspan></text>
<text transform="translate(781.7 379.2) scale(0.857 1)" style="font-size:18.3px;fill:#444">Capacity</text>
<text transform="translate(784.4 405) scale(0.857 1)" style="font-size:18.3px;fill:#444">(TAF)</text>
<g style="filter:url(#soft)">
<rect x="873" y="363.5" width="34.5" height="82" fill="#e9e9ee"/>
<rect x="873.7" y="364.4" width="33" height="25" fill="#fcd16e"/>
<rect x="875.4" y="389.2" width="29.2" height="56" fill="url(#lg)"/>
<path d="M858 359.6V445.8M854.8 362.5h3.2M854.8 389.2h3.2M854.8 416.7h3.2M854.8 445h3.2" stroke="#2c2c2c" stroke-width="2" fill="none"/>
<path d="M871.8 360.5V446" stroke="#4c4c5c" stroke-width="2.8" fill="none"/>
<path d="M908.6 360.5L910.6 446" stroke="#4c4c5c" stroke-width="2.8" fill="none"/>
<path d="M871 362.6H910" stroke="#6a6a78" stroke-width="2" fill="none"/>
<path d="M862 450H918.3" stroke="#444" stroke-width="3"/>
<path d="M860 380L925.8 378.4" stroke="#1f974a" stroke-width="3"/>
</g>
<text transform="translate(932 383.5) scale(0.857 1)" style="font-size:15.6px;fill:#2a8a48;font-weight:bold">Historical</text>
<text transform="translate(932 407.7) scale(0.857 1)" style="font-size:15.6px;fill:#2a8a48;font-weight:bold">Avg Mark</text>
<text transform="translate(776.7 481.2) scale(0.857 1)" style="font-size:18.3px;font-weight:bold;fill:#4a56a6">% of Capacity</text>
<text transform="translate(889.5 480.5) scale(0.857 1)" style="font-size:18.3px;fill:#444">|</text>
<text transform="translate(909.4 481.2) scale(0.857 1)" style="font-size:18.3px;font-weight:bold;fill:#2a8a48">% Hist. Avg.</text>
<text transform="translate(763.6 508.3) scale(0.857 1)" style="font-size:18.3px;fill:#444;font-weight:bold">(Click res. 3 char. code for details)</text>
</g>
<text transform="translate(37.5 1392.5) scale(0.857 1)" style="font-size:24.6px;fill:#2878ac"><tspan style="text-decoration:underline">Click to download printable version of current data</tspan><tspan style="fill:#6a7a86">.</tspan></text>
<text transform="translate(618 1392.5) scale(0.857 1)" style="font-size:24.6px;fill:#505050">Report Generated: 10-Feb-2026 9:46 AM</text>
<text transform="translate(37.5 1441) scale(0.857 1)" style="font-size:24.6px;fill:#505050">The CSI link has been disabled to zoom in, for the lack of historical data.</text>
</svg>
</body>
</html>
